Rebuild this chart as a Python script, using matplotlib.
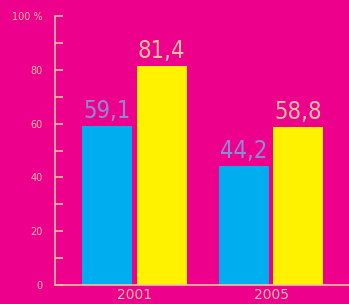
import numpy as np
import matplotlib.pyplot as plt
from matplotlib.ticker import MultipleLocator

years = ['2001', '2005']
blue_vals = [59.1, 44.2]
yellow_vals = [81.4, 58.8]

BG = '#EC008C'
BLUE = '#00AEEF'
YELLOW = '#FFF200'
PEACH = '#F6C0A0'
LAVENDER = '#8E8BD6'

fig = plt.figure(figsize=(3.49, 3.04), dpi=100, facecolor=BG)
ax = fig.add_axes([0.1576, 0.0625, 0.8424, 0.8845], facecolor=BG)

x = np.arange(len(years))
w = 0.365
off = 0.2
ax.bar(x - off, blue_vals, w, color=BLUE)
ax.bar(x + off, yellow_vals, w, color=YELLOW)

lab = dict(ha='center', va='bottom', fontsize=17, fontstretch='condensed',
           family='DejaVu Sans')
for xi, v in zip(x, blue_vals):
    ax.text(xi - off, v + 1.0, f'{v:.1f}'.replace('.', ','), color=LAVENDER, **lab)
for xi, v in zip(x, yellow_vals):
    ax.text(xi + off, v + 1.0, f'{v:.1f}'.replace('.', ','), color=PEACH, **lab)

ax.set_xlim(-0.58, 1.57)
ax.set_ylim(0, 100)
ax.set_xticks(x)
ax.set_xticklabels(years)
ax.set_yticks([0, 20, 40, 60, 80, 100])
ax.set_yticklabels(['0', '20', '40', '60', '80', '100 %'])
ax.yaxis.set_minor_locator(MultipleLocator(10))

for s in ['top', 'right']:
    ax.spines[s].set_visible(False)
for s in ['left', 'bottom']:
    ax.spines[s].set_color(PEACH)
    ax.spines[s].set_linewidth(1.2)

ax.tick_params(axis='y', which='both', direction='in', length=6, width=1.2,
               color=PEACH, labelcolor=PEACH, labelsize=7)
ax.tick_params(axis='y', which='major', pad=9)
ax.tick_params(axis='x', length=0, labelcolor=PEACH, labelsize=10, pad=2.5)

fig.savefig('out.png', dpi=100, facecolor=BG)
